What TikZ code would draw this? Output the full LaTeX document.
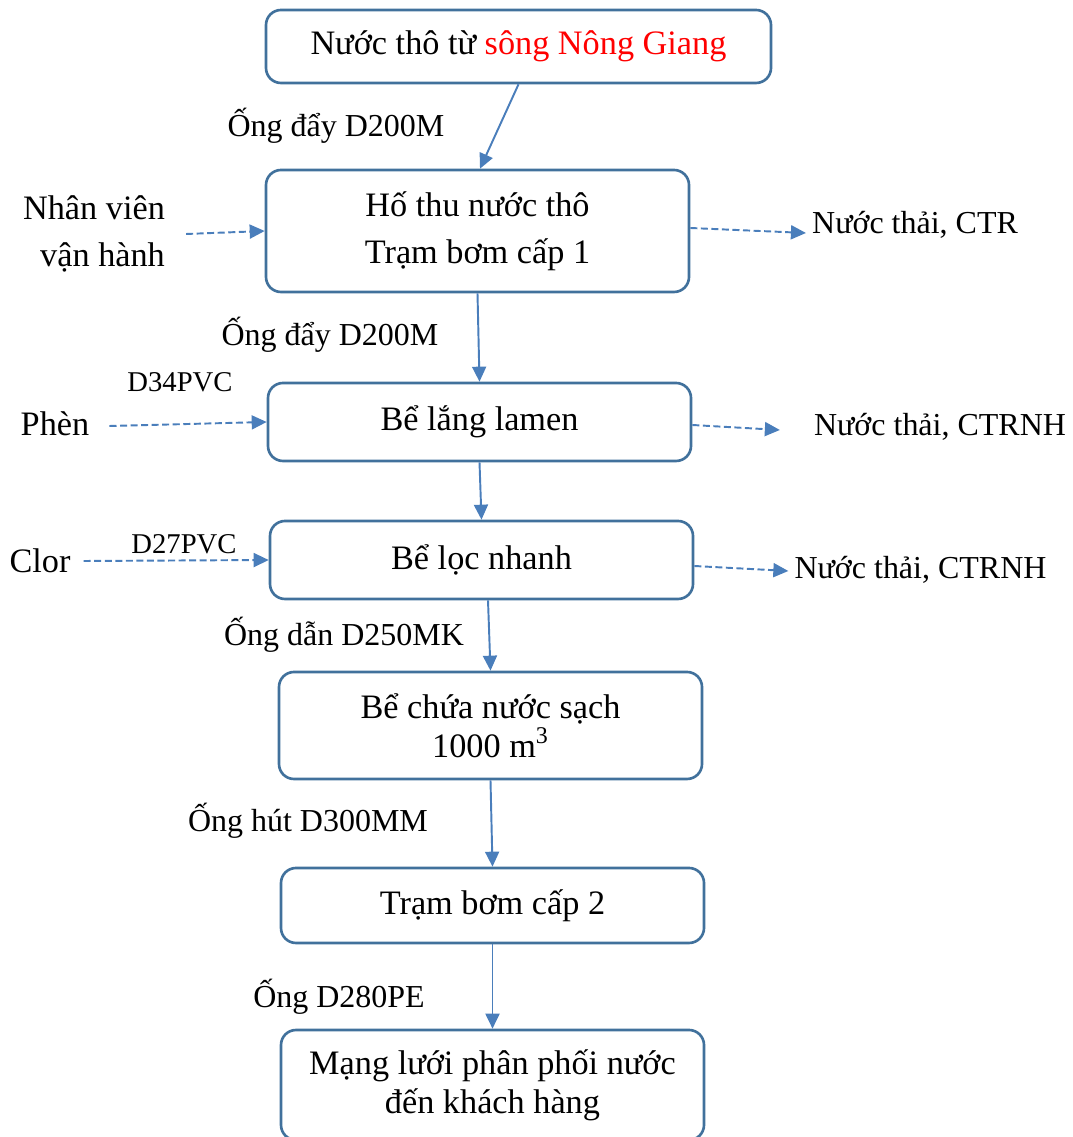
\documentclass[tikz,border=0pt]{standalone}
\usepackage{fontspec}
\setmainfont{Liberation Serif}
\usetikzlibrary{positioning,arrows.meta}
\definecolor{boxblue}{HTML}{41719C}
\definecolor{flowblue}{HTML}{4A7EBB}
\definecolor{riverred}{HTML}{FF0000}

\begin{document}
\begin{tikzpicture}[x=1cm,y=1cm,
  stage/.style={draw=boxblue, line width=1.5pt, rounded corners=0.3cm, minimum width=8.46cm, inner sep=0pt, align=center, font=\fontsize{19.5}{27}\selectfont},
  side/.style={font=\fontsize{19.5}{27}\selectfont},
  pipe/.style={font=\fontsize{18.2}{22}\selectfont},
  dose/.style={font=\fontsize{16.3}{20}\selectfont},
  waste/.style={font=\fontsize{18.2}{22}\selectfont},
  flow/.style={draw=flowblue, line width=1.1pt, -{Triangle[length=0.3cm,width=0.28cm]}},
  feed/.style={flow, dash pattern=on 4pt off 2pt}]
\useasboundingbox (0,0) rectangle (21.46,22.74);
% treatment line
\node[stage, minimum width=10.1cm, minimum height=1.46cm] (source) at (10.37,21.81) {Nước thô từ \textcolor{riverred}{sông Nông Giang}};
\node[stage, minimum height=2.44cm] (intake) at (9.55,18.12) {Hố thu nước thô\\Trạm bơm cấp 1};
\node[stage, minimum height=1.56cm] (settle) at (9.59,14.30) {Bể lắng lamen};
\node[stage, minimum height=1.56cm] (filter) at (9.63,11.54) {Bể lọc nhanh};
\node[stage, minimum height=2.14cm, font=\fontsize{19.5}{22}\selectfont] (tank) at (9.81,8.23) {Bể chứa nước sạch\\1000 m\textsuperscript{3}};
\node[stage, minimum height=1.50cm] (pump) at (9.85,4.63) {Trạm bơm cấp 2};
\node[stage, minimum height=2.20cm, font=\fontsize{19.5}{22}\selectfont] (network) at (9.85,1.04) {Mạng lưới phân phối nước\\đến khách hàng};
% pipe labels
\node[pipe] (pipea) at (6.72,20.22) {Ống đẩy D200M};
\node[pipe] (pipeb) at (6.60,16.04) {Ống đẩy D200M};
\node[pipe] (pipec) at (6.88,10.04) {Ống dẫn D250MK};
\node[pipe] (piped) at (6.16,6.32) {Ống hút D300MM};
\node[pipe] (pipee) at (6.78,2.80) {Ống D280PE};
% inputs
\node[side, align=right] (staff) at (1.88,18.06) {Nhân viên\\vận hành};
\node[side] (alum) at (1.10,14.26) {Phèn};
\node[side] (chlor) at (0.80,11.52) {Clor};
\node[dose] (alumpipe) at (3.60,15.10) {D34PVC};
\node[dose] (chlorpipe) at (3.68,11.86) {D27PVC};
% outputs
\node[waste] (wastea) at (18.30,18.24) {Nước thải, CTR};
\node[waste] (wasteb) at (18.80,14.20) {Nước thải, CTRNH};
\node[waste] (wastec) at (18.41,11.34) {Nước thải, CTRNH};

\draw[flow] (source.south) -- ([xshift=0.05cm]intake.north);
\draw[flow] (intake.south) -- (settle.north);
\draw[flow] (settle.south) -- (filter.north);
\draw[flow] ([xshift=0.13cm]filter.south) -- (tank.north);
\draw[flow] (tank.south) -- (pump.north);
\draw[flow] (pump.south) -- (network.north);

\draw[feed] ([xshift=0.3cm]staff.east) -- (intake.west);
\draw[feed] ([xshift=0.28cm,yshift=-0.04cm]alum.east) -- (settle.west);
\draw[feed] ([xshift=0.14cm]chlor.east) -- (filter.west);
\draw[feed] ([yshift=0.06cm]intake.east) -- ([yshift=-0.16cm]wastea.west);
\draw[feed] ([yshift=-0.06cm]settle.east) -- ([xshift=-0.56cm,yshift=-0.06cm]wasteb.west);
\draw[feed] ([yshift=-0.12cm]filter.east) -- ([yshift=-0.02cm]wastec.west);
\end{tikzpicture}
\end{document}
